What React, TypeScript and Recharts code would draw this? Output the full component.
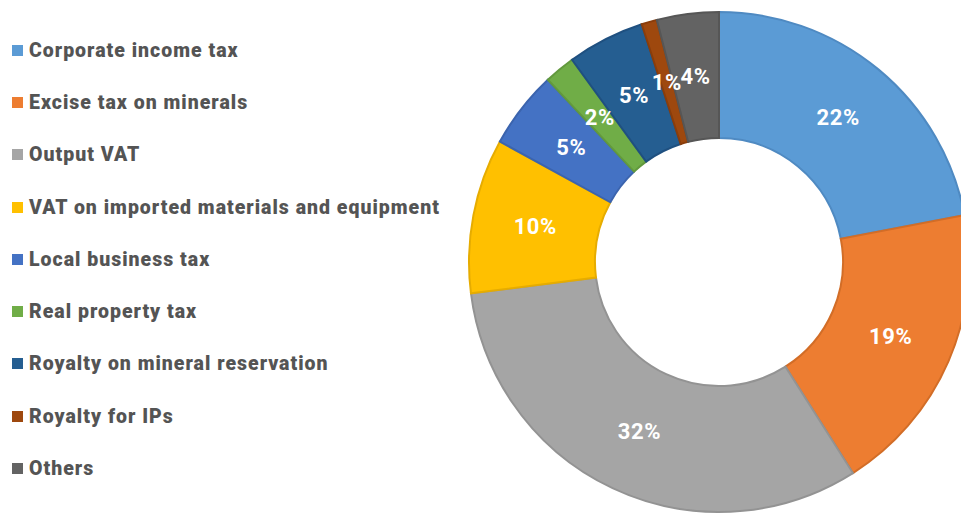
import React from "react";
import { PieChart, Pie, Cell, Legend } from "recharts";

const categories = [
  "Corporate income tax",
  "Excise tax on minerals",
  "Output VAT",
  "VAT on imported materials and equipment",
  "Local business tax",
  "Real property tax",
  "Royalty on mineral reservation",
  "Royalty for IPs",
  "Others",
];
const shares = [22, 19, 32, 10, 5, 2, 5, 1, 4];
const colors = ["#5B9BD5", "#ED7D31", "#A5A5A5", "#FFC000", "#4472C4", "#70AD47", "#255E91", "#9E480E", "#636363"];
const borders = ["#4F8AC2", "#D26D27", "#939393", "#E6AC00", "#3B64AE", "#62993D", "#1F5080", "#8A3D0B", "#565656"];

const data = categories.map((name, i) => ({ name, value: shares[i] }));

const RADIAN = Math.PI / 180;

const renderLabel = (props: any) => {
  const { cx, cy, midAngle, innerRadius, outerRadius, value } = props;
  const r = (innerRadius + outerRadius) / 2;
  const x = cx + r * Math.cos(-midAngle * RADIAN);
  const y = cy + r * Math.sin(-midAngle * RADIAN);
  return (
    <text
      x={x}
      y={y}
      fill="#FFFFFF"
      textAnchor="middle"
      dominantBaseline="central"
      fontFamily="Roboto, 'Noto Sans', sans-serif"
      fontWeight={700}
      fontSize={22}
      letterSpacing={0.6}
    >
      {`${value}%`}
    </text>
  );
};

const LegendContent = () => (
  <div style={{ fontFamily: "Roboto, 'Noto Sans', sans-serif" }}>
    {categories.map((c, i) => (
      <div
        key={c}
        style={{ height: 52.3, display: "flex", alignItems: "center", whiteSpace: "nowrap" }}
      >
        <span
          style={{
            display: "inline-block",
            width: 11,
            height: 11,
            background: colors[i],
            marginLeft: 12,
            marginRight: 6,
          }}
        />
        <span style={{ fontSize: 19.5, fontWeight: 900, color: "#545454", letterSpacing: 1 }}>{c}</span>
      </div>
    ))}
  </div>
);

export default function App() {
  return (
    <div style={{ position: "absolute", left: 0, top: 0, width: 961, height: 514, background: "#fff" }}>
      <PieChart width={961} height={514} margin={{ top: 0, right: 0, bottom: 0, left: 0 }}>
        <Legend
          layout="vertical"
          align="center"
          verticalAlign="middle"
          content={<LegendContent />}
          wrapperStyle={{ left: 0, top: 24, width: 460 }}
        />
        <Pie
          data={data}
          dataKey="value"
          nameKey="name"
          cx={719}
          cy={262}
          innerRadius={124}
          outerRadius={250}
          startAngle={90}
          endAngle={-270}
          label={renderLabel}
          labelLine={false}
          isAnimationActive={false}
        >
          {data.map((d, i) => (
            <Cell key={d.name} fill={colors[i]} stroke={borders[i]} strokeWidth={2} />
          ))}
        </Pie>
      </PieChart>
    </div>
  );
}
